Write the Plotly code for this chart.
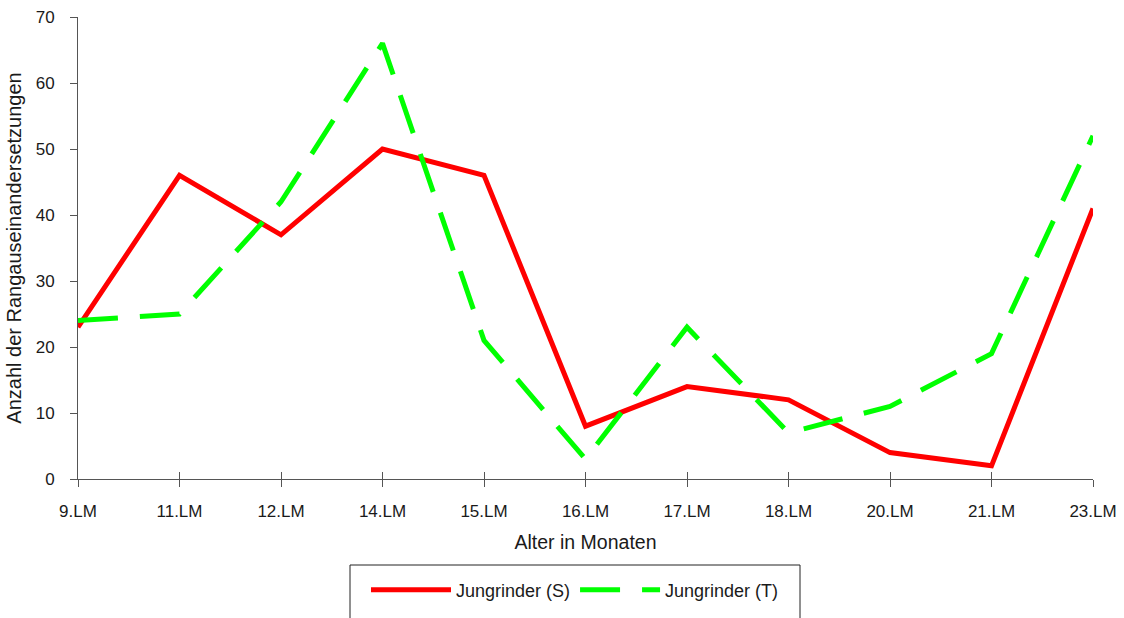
import plotly.graph_objects as go

categories = ["9.LM", "11.LM", "12.LM", "14.LM", "15.LM", "16.LM", "17.LM", "18.LM", "20.LM", "21.LM", "23.LM"]
series_s = [23, 46, 37, 50, 46, 8, 14, 12, 4, 2, 41]
series_t = [24, 25, 42, 66, 21, 3, 23, 7, 11, 19, 52]
y_ticks = [0, 10, 20, 30, 40, 50, 60, 70]

W, H = 1124, 618
L, R, T, B = 78, 31, 17, 139
pw, ph = W - L - R, H - T - B

def px_x(p):
    return (p - L) / pw

def px_y(p):
    return (H - B - p) / ph

FONT = "Liberation Sans, Arial, sans-serif"

fig = go.Figure()
fig.add_trace(go.Scatter(x=categories, y=series_s, mode="lines", name="Jungrinder (S)",
                         line=dict(color="#FF0000", width=5)))
fig.add_trace(go.Scatter(x=categories, y=series_t, mode="lines", name="Jungrinder (T)",
                         line=dict(color="#00FF00", width=5, dash="40px,22px")))

fig.update_layout(
    width=W, height=H,
    margin=dict(l=L, r=R, t=T, b=B, autoexpand=False),
    paper_bgcolor="white", plot_bgcolor="white",
    font=dict(family=FONT, size=17, color="#1a1a1a"),
    xaxis=dict(type="category", categoryorder="array", categoryarray=categories,
               range=[0, len(categories) - 1], showgrid=False, zeroline=False,
               showline=True, linecolor="#555", linewidth=1,
               ticks="outside", ticklen=7, tickcolor="#555", ticklabelstandoff=10,
               tickfont=dict(size=17),
               title=dict(text="Alter in Monaten", font=dict(size=19.5), standoff=14)),
    xaxis2=dict(overlaying="x", anchor="y", range=[0, len(categories) - 1],
                tickvals=list(range(len(categories))), showticklabels=False,
                showgrid=False, zeroline=False, showline=False,
                ticks="inside", ticklen=7, tickcolor="#555"),
    yaxis=dict(range=[0, 70], tickvals=y_ticks, showgrid=False, zeroline=False,
               showline=True, linecolor="#555", linewidth=1,
               ticks="outside", ticklen=7, tickcolor="#555", ticklabelstandoff=12,
               tickfont=dict(size=17),
               title=dict(text="Anzahl der Rangauseinandersetzungen", font=dict(size=20), standoff=8)),
    showlegend=True,
    legend=dict(orientation="h", x=px_x(575), xanchor="center", y=px_y(590), yanchor="middle",
                itemwidth=80, font=dict(size=18), bgcolor="rgba(0,0,0,0)", borderwidth=0),
    shapes=[dict(type="rect", xref="paper", yref="paper",
                 x0=px_x(350), x1=px_x(800), y0=px_y(565), y1=px_y(640),
                 line=dict(color="#222", width=1), fillcolor="rgba(0,0,0,0)")],
)
# invisible trace to activate the overlaid tick axis
fig.add_trace(go.Scatter(x=[0], y=[0], xaxis="x2", mode="markers", marker=dict(opacity=0),
                         showlegend=False, hoverinfo="skip"))

fig.write_html("out.html", config={"displayModeBar": False},
               post_script="document.body.style.margin='0';")
